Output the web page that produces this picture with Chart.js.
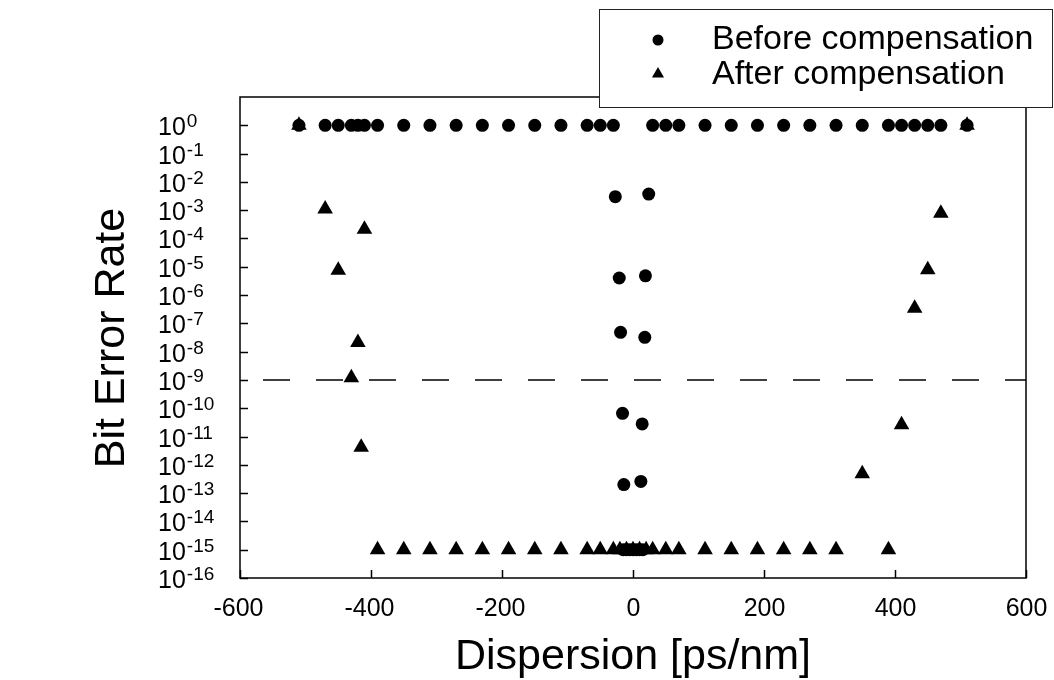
<!DOCTYPE html>
<html>
<head>
<meta charset="utf-8">
<script src="https://cdn.jsdelivr.net/npm/chart.js@4"></script>
<style>
  html, body { margin: 0; padding: 0; background: #fff; }
  canvas { display: block; }
</style>
</head>
<body>
<canvas id="berChart" width="1054" height="680"></canvas>
<script>
// Before compensation: dispersion [ps/nm] and bit error rate
const beforeDispersion = [
  -510, -470, -450, -430, -420, -410, -390, -350, -310, -270, -230, -190, -150, -110, -70, -50, -30,
  30, 50, 70, 110, 150, 190, 230, 270, 310, 350, 390, 410, 430, 450, 470, 510,
  -27, 24, -21, 19, -19, 18, -16, 14, -14, 12,
  -15, -10, -5, 0, 5, 10, 15
];
const beforeBER = [
  1, 1, 1, 1, 1, 1, 1, 1, 1, 1, 1, 1, 1, 1, 1, 1, 1,
  1, 1, 1, 1, 1, 1, 1, 1, 1, 1, 1, 1, 1, 1, 1, 1,
  3.0e-3, 3.7e-3, 4.0e-6, 4.8e-6, 4.8e-8, 3.2e-8, 6.6e-11, 2.8e-11, 2.0e-13, 2.6e-13,
  1e-15, 1e-15, 1e-15, 1e-15, 1e-15, 1e-15, 1e-15
];

// After compensation
const afterDispersion = [
  -510, 510,
  -470, -410, -450, -420, -430, -415,
  470, 450, 430, 410, 350,
  -390, -350, -310, -270, -230, -190, -150, -110, -70, -50, -30, -20, -10, 0,
  10, 20, 30, 50, 70, 110, 150, 190, 230, 270, 310, 390
];
const afterBER = [
  1, 1,
  1.1e-3, 2.1e-4, 7.6e-6, 2.1e-8, 1.2e-9, 4.2e-12,
  7.8e-4, 7.8e-6, 3.4e-7, 2.6e-11, 4.8e-13,
  1e-15, 1e-15, 1e-15, 1e-15, 1e-15, 1e-15, 1e-15, 1e-15, 1e-15, 1e-15, 1e-15, 1e-15, 1e-15, 1e-15,
  1e-15, 1e-15, 1e-15, 1e-15, 1e-15, 1e-15, 1e-15, 1e-15, 1e-15, 1e-15, 1e-15, 1e-15
];

// 1e-9 threshold line
const thresholdDispersion = [-600, 600];
const thresholdBER = [1e-9, 1e-9];

// axis ticks
const xTickValues = [-600, -400, -200, 0, 200, 400, 600];
const yExponents = [0, -1, -2, -3, -4, -5, -6, -7, -8, -9, -10, -11, -12, -13, -14, -15, -16];

const legendLabels = ['Before compensation', 'After compensation'];

const FONT = '"Liberation Sans", Arial, Helvetica, sans-serif';

function toPoints(xs, ys) {
  return xs.map((x, i) => ({ x: x, y: ys[i] }));
}

// frame, inward ticks, superscript labels, titles and legend box
const sigmaAxes = {
  id: 'sigmaAxes',
  afterDraw(chart) {
    const ctx = chart.ctx;
    const area = chart.chartArea;
    const xs = chart.scales.x;
    const ys = chart.scales.y;

    ctx.save();
    ctx.strokeStyle = '#000';
    ctx.fillStyle = '#000';
    ctx.lineWidth = 1.5;
    ctx.strokeRect(area.left, area.top, area.right - area.left, area.bottom - area.top);

    // y ticks + labels (10^n)
    yExponents.forEach(e => {
      const y = Math.round(ys.getPixelForValue(Math.pow(10, e))) + 0.5;
      ctx.beginPath();
      ctx.moveTo(area.left, y);
      ctx.lineTo(area.left + 8, y);
      ctx.stroke();

      ctx.textAlign = 'left';
      ctx.textBaseline = 'alphabetic';
      ctx.font = '25px ' + FONT;
      ctx.fillText('10', 158, y + 9);
      const w = ctx.measureText('10').width;
      ctx.font = '19px ' + FONT;
      ctx.fillText(String(e), 158 + w + 1, y + 1);
    });

    // x ticks + labels
    ctx.font = '25px ' + FONT;
    ctx.textAlign = 'center';
    ctx.textBaseline = 'middle';
    xTickValues.forEach(v => {
      const x = Math.round(xs.getPixelForValue(v)) + 0.5;
      ctx.beginPath();
      ctx.moveTo(x, area.bottom);
      ctx.lineTo(x, area.bottom - 8);
      ctx.stroke();
      ctx.fillText(String(v), v < 0 ? x - 2 : x, 609);
    });

    // axis titles
    ctx.font = '43px ' + FONT;
    ctx.fillText('Dispersion [ps/nm]', (area.left + area.right) / 2, 657);
    ctx.save();
    ctx.translate(112, 338);
    ctx.rotate(-Math.PI / 2);
    ctx.fillText('Bit Error Rate', 0, 0);
    ctx.restore();

    // legend box
    ctx.fillStyle = '#fff';
    ctx.fillRect(599, 9, 455, 98);
    ctx.strokeStyle = '#222';
    ctx.lineWidth = 1;
    ctx.strokeRect(599.5, 9.5, 453, 98);

    ctx.fillStyle = '#000';
    ctx.beginPath();
    ctx.arc(658, 40, 5.5, 0, Math.PI * 2);
    ctx.fill();
    const r = 7;
    ctx.beginPath();
    ctx.moveTo(658, 74 - r);
    ctx.lineTo(658 + r * Math.sin(2 * Math.PI / 3), 74 + r / 2);
    ctx.lineTo(658 - r * Math.sin(2 * Math.PI / 3), 74 + r / 2);
    ctx.closePath();
    ctx.fill();

    ctx.font = '34px ' + FONT;
    ctx.textAlign = 'left';
    ctx.textBaseline = 'middle';
    ctx.fillText(legendLabels[0], 712, 40);
    ctx.fillText(legendLabels[1], 712, 75);
    ctx.restore();
  }
};

new Chart(document.getElementById('berChart'), {
  type: 'scatter',
  data: {
    datasets: [
      {
        label: legendLabels[0],
        data: toPoints(beforeDispersion, beforeBER),
        pointStyle: 'circle',
        pointRadius: 6.5,
        backgroundColor: '#000',
        borderColor: '#000',
        borderWidth: 0
      },
      {
        label: legendLabels[1],
        data: toPoints(afterDispersion, afterBER),
        pointStyle: 'triangle',
        pointRadius: 9,
        backgroundColor: '#000',
        borderColor: '#000',
        borderWidth: 0
      },
      {
        label: 'threshold',
        data: toPoints(thresholdDispersion, thresholdBER),
        showLine: true,
        pointRadius: 0,
        borderColor: '#000',
        borderWidth: 1.5,
        borderDash: [27, 26],
        borderDashOffset: 30
      }
    ]
  },
  options: {
    responsive: false,
    animation: false,
    devicePixelRatio: 1,
    layout: { padding: { left: 240, right: 28, top: 97, bottom: 102 } },
    plugins: {
      legend: { display: false },
      tooltip: { enabled: false }
    },
    scales: {
      x: { type: 'linear', min: -600, max: 600, display: false },
      y: { type: 'logarithmic', min: 1e-16, max: 10, display: false }
    }
  },
  plugins: [sigmaAxes]
});
</script>
</body>
</html>
